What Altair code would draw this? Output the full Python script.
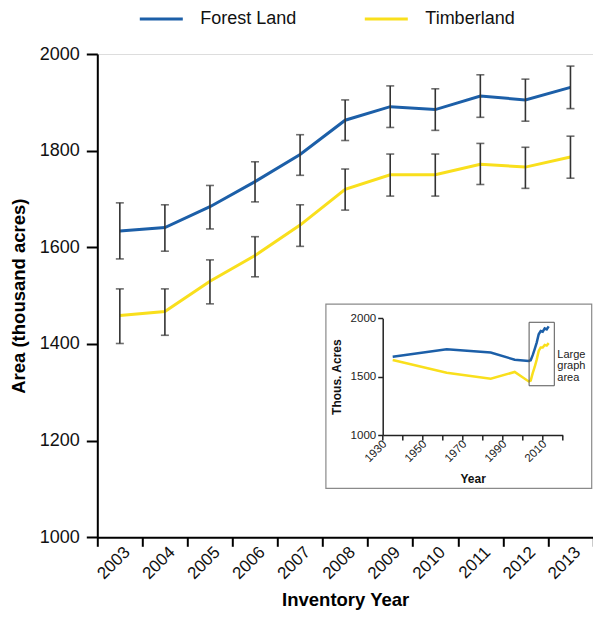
import altair as alt
import pandas as pd

# ---------------- data ----------------
SERIES = ["Forest Land", "Timberland"]
COLORS = ["#1c5fa8", "#f9df1c"]

YEARS = [2003, 2004, 2005, 2006, 2007, 2008, 2009, 2010, 2011, 2012, 2013]
FOREST = [1634, 1641, 1684, 1736, 1792, 1863, 1891, 1885, 1913, 1905, 1931]
FOREST_LO = [1576, 1592, 1638, 1694, 1749, 1821, 1848, 1842, 1869, 1861, 1887]
FOREST_HI = [1692, 1688, 1728, 1777, 1833, 1905, 1934, 1928, 1957, 1948, 1975]
TIMBER = [1459, 1467, 1530, 1583, 1646, 1720, 1750, 1750, 1772, 1766, 1787]
TIMBER_LO = [1401, 1418, 1483, 1539, 1602, 1677, 1706, 1706, 1730, 1722, 1743]
TIMBER_HI = [1514, 1514, 1574, 1622, 1688, 1762, 1793, 1793, 1815, 1807, 1830]

# inset (long-term trend)
HIST_YEARS = [1935, 1962, 1984, 1996]
HIST_FOREST = [1670, 1734, 1707, 1645]
HIST_TIMBER = [1643, 1534, 1482, 1540]

Y_TICKS = [1000, 1200, 1400, 1600, 1800, 2000]
INSET_X_TICKS = [1930, 1940, 1950, 1960, 1970, 1980, 1990, 2000, 2010, 2020]
INSET_Y_TICKS = [1000, 1500, 2000]
INSET_NOTE = "Large\ngraph\narea"

# ---------------- layout (pixels) ----------------
PAD_L, PAD_T = 89.3, 46
W, H = 585 - PAD_L, 483.3
INSET_XR = [285.4, 465.4]      # inset x range inside plot area
INSET_YR = [381.0, 264.3]      # inset y range inside plot area
FONT = "Liberation Sans"

rows = []
for i, yr in enumerate(YEARS):
    rows.append(dict(year=yr, series=SERIES[0], value=FOREST[i], lo=FOREST_LO[i], hi=FOREST_HI[i]))
    rows.append(dict(year=yr, series=SERIES[1], value=TIMBER[i], lo=TIMBER_LO[i], hi=TIMBER_HI[i]))
main_df = pd.DataFrame(rows)

irows = []
for i, yr in enumerate(HIST_YEARS):
    irows.append(dict(year=yr, series=SERIES[0], value=HIST_FOREST[i]))
    irows.append(dict(year=yr, series=SERIES[1], value=HIST_TIMBER[i]))
for i, yr in enumerate(YEARS):
    irows.append(dict(year=yr, series=SERIES[0], value=FOREST[i]))
    irows.append(dict(year=yr, series=SERIES[1], value=TIMBER[i]))
inset_df = pd.DataFrame(irows)

frame_df = pd.DataFrame([dict(x=1901.6, x2=2034.5, y=543, y2=2122)])
box_df = pd.DataFrame([dict(x=2003.2, x2=2015.8, y=1422, y2=1966)])
note_df = pd.DataFrame([dict(x=2017.3, y=1688, t=INSET_NOTE)])

color = alt.Color(
    "series:N",
    scale=alt.Scale(domain=SERIES, range=COLORS),
    legend=alt.Legend(
        title=None, orient="none", direction="horizontal",
        legendX=41, legendY=-58,
        symbolType="stroke", symbolSize=1849, symbolStrokeWidth=3,
        labelFont=FONT, labelFontSize=18, labelColor="#111",
        labelOffset=16, columnPadding=61, padding=0,
    ),
)

# ---------------- main chart ----------------
x_axis = alt.Axis(
    tickBand="extent", labelAngle=-45, labelAlign="right", labelBaseline="middle",
    labelFont=FONT, labelFontSize=17, labelColor="#111", labelOffset=7, labelPadding=3,
    tickSize=9, tickWidth=2, tickColor="#000", domainWidth=2, domainColor="#000",
    titleFont=FONT, titleFontSize=18.5, titleFontWeight="bold", titlePadding=9, titleColor="#000",
    grid=False, labelOverlap=False,
)
y_axis = alt.Axis(
    values=Y_TICKS, format="d",
    labelFont=FONT, labelFontSize=18, labelColor="#111", labelPadding=7,
    tickSize=11, tickWidth=2, tickColor="#000", domainWidth=2, domainColor="#000",
    titleFont=FONT, titleFontSize=18.5, titleFontWeight="bold", titlePadding=11, titleColor="#000",
    grid=False,
)
x_main = alt.X("year:O", scale=alt.Scale(type="band", paddingInner=0, paddingOuter=0),
               axis=x_axis, title="Inventory Year")
y_scale = alt.Scale(domain=[1000, 2000], nice=False, zero=False)
Y_TITLE = "Area (thousand acres)"

base = alt.Chart(main_df)
lines = base.mark_line(strokeWidth=3).encode(
    x=x_main,
    y=alt.Y("value:Q", scale=y_scale, axis=y_axis, title=Y_TITLE),
    color=color,
)
bars = base.mark_rule(color="#333", strokeWidth=1.6).encode(
    x=x_main,
    y=alt.Y("lo:Q", scale=y_scale, axis=y_axis, title=Y_TITLE),
    y2="hi:Q",
)
cap_lo = base.mark_tick(orient="horizontal", size=8, thickness=1.6, color="#333").encode(
    x=x_main, y=alt.Y("lo:Q", scale=y_scale, axis=y_axis, title=Y_TITLE))
cap_hi = base.mark_tick(orient="horizontal", size=8, thickness=1.6, color="#333").encode(
    x=x_main, y=alt.Y("hi:Q", scale=y_scale, axis=y_axis, title=Y_TITLE))
main = alt.layer(lines, bars, cap_lo, cap_hi)

# ---------------- inset ----------------
ix_scale = alt.Scale(domain=[1930, 2020], range=INSET_XR, nice=False, zero=False)
iy_scale = alt.Scale(domain=[1000, 2000], range=INSET_YR, nice=False, zero=False)
ix_axis = alt.Axis(
    orient="bottom", offset=-(H - INSET_YR[0]), values=INSET_X_TICKS, format="d",
    labelExpr="datum.value % 20 == 10 ? datum.label : ''",
    labelAngle=-45, labelAlign="right", labelBaseline="middle", labelFlush=False, labelOverlap=False,
    labelFont=FONT, labelFontSize=11.5, labelColor="#222", labelPadding=2, labelOffset=2,
    tickSize=5, tickWidth=1.5, tickColor="#222", domainWidth=1.5, domainColor="#222",
    titleFont=FONT, titleFontSize=12, titleFontWeight="bold", titlePadding=10, titleColor="#111",
    grid=False, zindex=2,
)
iy_axis = alt.Axis(
    orient="left", offset=-INSET_XR[0], values=INSET_Y_TICKS, format="d",
    labelFont=FONT, labelFontSize=11.5, labelColor="#222", labelPadding=2, labelFlush=False,
    tickSize=5, tickWidth=1.5, tickColor="#222", domainWidth=1.5, domainColor="#222",
    titleFont=FONT, titleFontSize=12, titleFontWeight="bold", titlePadding=7, titleColor="#111",
    grid=False, zindex=2,
)

frame = alt.Chart(frame_df).mark_rect(fill="white", stroke="#8a8a8a", strokeWidth=1.2).encode(
    x=alt.X("x:Q", scale=ix_scale, axis=ix_axis, title="Year"),
    x2="x2:Q",
    y=alt.Y("y:Q", scale=iy_scale, axis=iy_axis, title="Thous. Acres"),
    y2="y2:Q",
)
ilines = alt.Chart(inset_df).mark_line(strokeWidth=2.5).encode(
    x=alt.X("year:Q", scale=ix_scale, axis=ix_axis, title="Year"),
    y=alt.Y("value:Q", scale=iy_scale, axis=iy_axis, title="Thous. Acres"),
    color=alt.Color("series:N", scale=alt.Scale(domain=SERIES, range=COLORS), legend=None),
)
box = alt.Chart(box_df).mark_rect(fillOpacity=0, stroke="#555", strokeWidth=1).encode(
    x=alt.X("x:Q", scale=ix_scale, axis=ix_axis, title="Year"),
    x2="x2:Q",
    y=alt.Y("y:Q", scale=iy_scale, axis=iy_axis, title="Thous. Acres"),
    y2="y2:Q",
)
note = alt.Chart(note_df).mark_text(
    align="left", baseline="middle", lineBreak="\n", lineHeight=11.5,
    font=FONT, fontSize=11, color="#222",
).encode(
    x=alt.X("x:Q", scale=ix_scale, axis=ix_axis, title="Year"),
    y=alt.Y("y:Q", scale=iy_scale, axis=iy_axis, title="Thous. Acres"),
    text="t:N",
)
inset = alt.layer(frame, ilines, box, note)

chart = alt.layer(main, inset).resolve_scale(
    x="independent", y="independent"
).properties(
    width=W, height=H,
    autosize=alt.AutoSizeParams(type="none"),
    padding={"left": PAD_L, "top": PAD_T, "right": 0, "bottom": 72.7},
).configure_view(stroke=None).configure(background="white")

chart.save("out.html", embed_options={"renderer": "svg", "actions": False})
